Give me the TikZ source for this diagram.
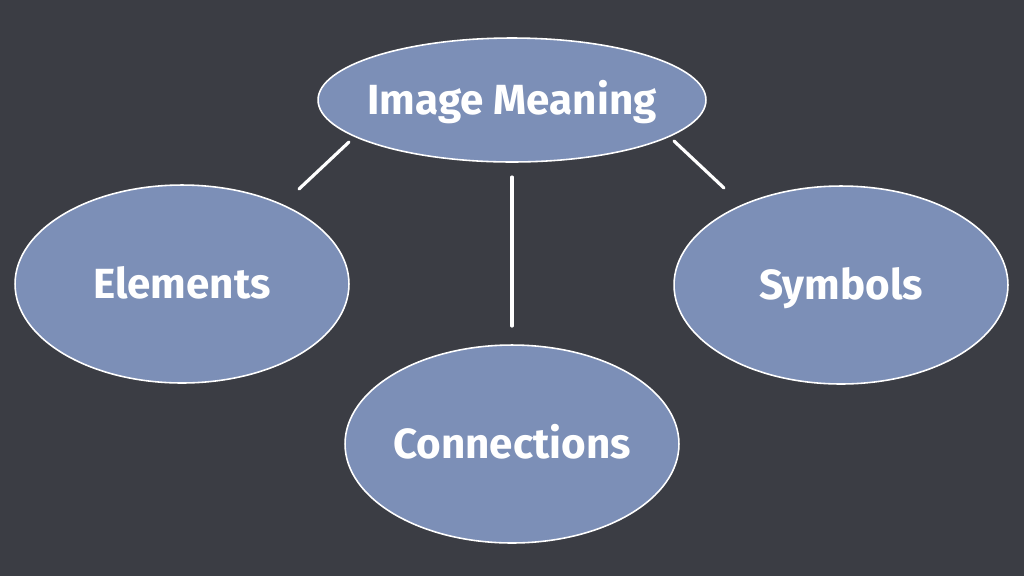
\documentclass[tikz,border=0pt]{standalone}
\usepackage{fontspec}
\setmainfont{Fira Sans}
\usetikzlibrary{shapes.geometric}

\definecolor{board}{HTML}{3B3D44}
\definecolor{bubblefill}{HTML}{7C8FB7}

\tikzset{
  bubble/.style={ellipse, draw=white, line width=0.9pt, fill=bubblefill,
    inner sep=0pt, inner xsep=-1cm, text height=20pt, text depth=3pt,
    text=white, font=\fontsize{24}{28}\selectfont\bfseries},
  bigbubble/.style={bubble, minimum width=6.68cm, minimum height=3.96cm},
  link/.style={draw=white, line width=1.8pt, line cap=round}
}

\begin{document}
\begin{tikzpicture}[x=0.02cm, y=-0.02cm]
% board
\fill[board] (0,0) rectangle (1024,576);
\useasboundingbox (0,0) rectangle (1024,576);

% bubbles
\node[bubble, minimum width=7.76cm, minimum height=2.48cm] (meaning) at (512,100) {Image Meaning};
\node[bigbubble] (elements) at (182,284) {Elements};
\node[bigbubble] (symbols) at (841,285) {Symbols};
\node[bigbubble] (connections) at (512,444) {Connections};

% loose ends of the links
\coordinate (meaningL) at (349,142);
\coordinate (elementsT) at (299,189);
\coordinate (meaningR) at (674,141);
\coordinate (symbolsT) at (724,188);
\coordinate (meaningB) at (512,177);
\coordinate (connectionsT) at (512,326);

% links
\draw[link] (meaningL) -- (elementsT);
\draw[link] (meaningR) -- (symbolsT);
\draw[link] (meaningB) -- (connectionsT);
\end{tikzpicture}
\end{document}
